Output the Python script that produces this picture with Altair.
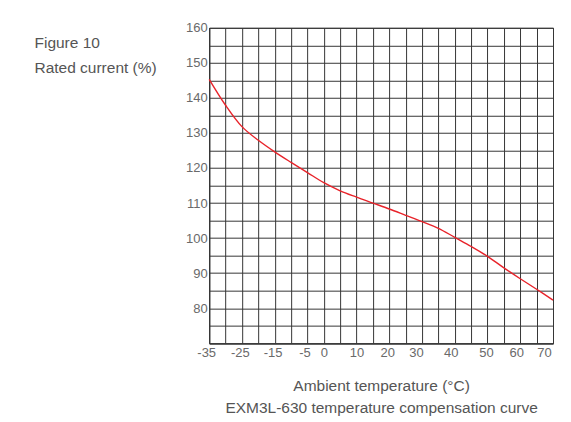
import altair as alt
import pandas as pd

# Data
temperature = [-35, -30, -25, -20, -15, -10, -5, 0, 5, 10, 15, 20, 25, 30, 35, 40, 45, 50, 55, 60, 65, 70]
rated_current = [145.3, 137.9, 131.8, 127.9, 124.6, 121.6, 118.7, 115.8, 113.5, 111.7, 110.0, 108.3,
                 106.5, 104.7, 102.8, 100.2, 97.6, 94.8, 91.5, 88.4, 85.4, 82.3]
x_grid = list(range(-35, 75, 5))
x_labels = [-35, -25, -15, -5, 0, 10, 20, 30, 40, 50, 60, 70]
y_grid = list(range(70, 165, 5))
y_labels = list(range(80, 165, 10))

y_title = ["Figure 10", "Rated current (%)"]
x_title = ["Ambient temperature  (°C)", "EXM3L-630 temperature compensation curve"]

df = pd.DataFrame({"t": temperature, "i": rated_current})

FONT = "Liberation Sans"
GRID = "#363636"
LABEL = "#6a6a6a"
TITLE = "#555555"

x_list = ",".join(str(v) for v in x_labels)
y_list = ",".join(str(v) for v in y_labels)

x_offsets = {-35: -3, -25: -2, -15: -2, -5: -3, 0: 0, 10: 0, 20: -2, 30: -6, 40: -4, 50: -1.5, 60: -4, 70: -9}
x_offset_cond = {
    "condition": [{"test": f"datum.value == {k}", "value": v} for k, v in x_offsets.items()],
    "value": 0,
}

W, H = 344, 315.6

x_axis = alt.Axis(
    values=x_grid,
    labelExpr=f"indexof([{x_list}], datum.value) >= 0 ? toString(datum.value) : ''",
    labelOffset=x_offset_cond,
    grid=True, gridColor=GRID, gridWidth=1, gridOpacity=1,
    ticks=False, domainColor=GRID, domainWidth=1,
    labelFont=FONT, labelFontSize=13, labelColor=LABEL, labelPadding=3,
    labelFlush=False, labelOverlap=False,
    title=x_title, titleFont=FONT, titleFontSize=15.5, titleFontWeight="normal",
    titleColor=TITLE, titleAlign="center", titleBaseline="alphabetic",
    titleX=W / 2, titleY=47.7, titleLineHeight=22,
)

y_axis = alt.Axis(
    values=y_grid,
    labelExpr=f"indexof([{y_list}], datum.value) >= 0 ? toString(datum.value) : ''",
    grid=True, gridColor=GRID, gridWidth=1, gridOpacity=1,
    ticks=False, domainColor=GRID, domainWidth=1,
    labelFont=FONT, labelFontSize=13, labelColor=LABEL, labelPadding=2,
    labelFlush=False, labelOverlap=False, labelBaseline="middle",
    title=y_title, titleFont=FONT, titleFontSize=15.5, titleFontWeight="normal",
    titleColor=TITLE, titleAngle=0, titleAlign="left", titleBaseline="alphabetic",
    titleX=-175.3, titleY=19.8, titleLineHeight=25,
)

chart = alt.Chart(df).mark_line(color="#e8232a", strokeWidth=1.4, interpolate="catmull-rom").encode(
    x=alt.X("t:Q", scale=alt.Scale(domain=[-35, 70], nice=False, zero=False), axis=x_axis),
    y=alt.Y("i:Q", scale=alt.Scale(domain=[70, 160], nice=False, zero=False), axis=y_axis),
).properties(
    width=W, height=H,
    autosize=alt.AutoSizeParams(type="none"),
    padding={"left": 201.3, "top": 19.7, "right": 10, "bottom": 78},
    background="white",
).configure_view(stroke=GRID, strokeWidth=1)

chart.save("out.html", embed_options={"renderer": "svg", "actions": False})
